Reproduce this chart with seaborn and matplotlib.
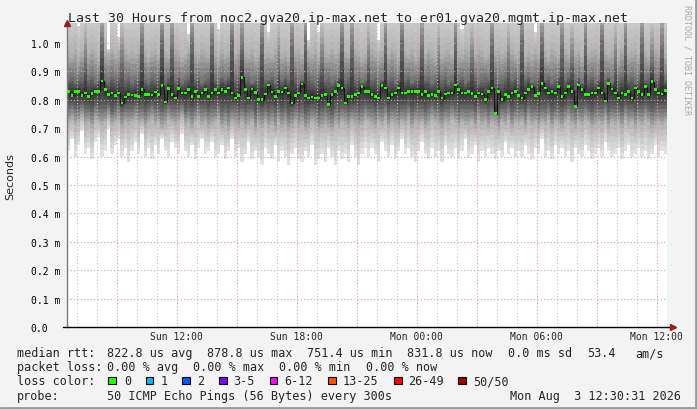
import numpy as np
import pandas as pd
import matplotlib
matplotlib.use('Agg')
import matplotlib.pyplot as plt
import matplotlib.dates as mdates
from matplotlib.ticker import FuncFormatter
from matplotlib.patches import Rectangle
from matplotlib.lines import Line2D
import seaborn as sns

# median rtt per 10 minute slot, in microseconds
median_us = [
    830, 815, 830, 828, 815, 824, 812, 822, 830, 830, 866, 835, 818, 824, 815,
    824, 789, 810, 818, 816, 815, 812, 836, 818, 818, 816, 827, 818, 850, 792,
    840, 818, 806, 840, 824, 824, 835, 812, 828, 812, 824, 836, 812, 824, 836,
    824, 836, 830, 841, 824, 806, 815, 879, 835, 806, 838, 826, 800, 800, 820,
    852, 827, 812, 830, 827, 841, 824, 789, 814, 824, 855, 815, 806, 810, 806,
    806, 815, 818, 783, 818, 830, 850, 841, 789, 812, 812, 818, 824, 846, 830,
    830, 818, 812, 806, 850, 841, 806, 818, 824, 841, 824, 824, 828, 830, 828,
    830, 818, 830, 815, 818, 815, 830, 806, 820, 824, 824, 852, 836, 824, 824,
    830, 822, 812, 824, 820, 800, 830, 841, 751, 830, 800, 818, 812, 824, 830,
    815, 806, 824, 836, 846, 815, 822, 858, 841, 824, 830, 824, 846, 812, 824,
    846, 830, 777, 852, 836, 818, 818, 824, 824, 841, 824, 795, 858, 838, 824,
    806, 824, 818, 830, 806, 841, 830, 818, 846, 818, 864, 836, 824, 820, 832,
]

# smoke: spread of the 50 pings per slot, in units of 0.01 ms
ping_min = [
    62, 66, 60, 64, 69, 61, 63, 59, 65, 67, 60, 62, 70, 61, 64, 66, 60, 63, 58, 62,
    65, 61, 68, 60, 63, 59, 64, 61, 66, 62, 60, 65, 63, 61, 68, 62, 60, 64, 59, 63,
    66, 61, 62, 65, 60, 61, 64, 59, 62, 66, 60, 63, 58, 61, 65, 59, 62, 60, 57, 63,
    61, 59, 64, 58, 62, 60, 57, 61, 63, 59, 58, 62, 60, 64, 57, 59, 61, 58, 63, 60,
    57, 62, 59, 61, 58, 64, 60, 57, 61, 63, 60, 63, 61, 58, 65, 62, 60, 64, 59, 62,
    66, 61, 63, 60, 58, 62, 65, 61, 59, 63, 60, 62, 58, 64, 61, 60, 63, 59, 62, 66,
    60, 61, 64, 58, 62, 60, 63, 61, 59, 62, 60, 65, 61, 63, 60, 62, 60, 64, 61, 59,
    63, 61, 66, 60, 62, 59, 64, 61, 63, 60, 62, 58, 63, 61, 60, 64, 62, 59, 61, 63,
    60, 65, 62, 60, 61, 63, 59, 62, 64, 60, 61, 63, 60, 62, 59, 61, 64, 60, 62, 61,
]
ping_p10 = [
    72, 73, 71, 72, 74, 71, 72, 70, 73, 72, 71, 72, 74, 71, 72, 73, 70, 72, 71, 72,
    73, 71, 72, 70, 72, 73, 71, 72, 70, 71, 73, 72, 71, 72, 74, 71, 72, 70, 72, 73,
    71, 72, 70, 71, 72, 73, 70, 71, 69, 72, 71, 70, 72, 70, 71, 72, 69, 71, 70, 72,
    70, 71, 69, 72, 70, 71, 69, 70, 72, 70, 71, 69, 70, 72, 71, 69, 70, 71, 70, 69,
    71, 70, 72, 71, 70, 72, 71, 70, 71, 73, 72, 71, 70, 72, 71, 73, 70, 72, 71, 70,
    72, 71, 73, 70, 72, 71, 72, 70, 71, 73, 72, 71, 70, 72, 71, 73, 72, 70, 72, 71,
    71, 72, 70, 73, 71, 72, 70, 72, 71, 69, 72, 71, 73, 70, 72, 71, 72, 70, 73, 71,
    72, 70, 72, 71, 73, 70, 72, 71, 70, 72, 73, 71, 70, 72, 71, 73, 72, 70, 71, 72,
    71, 73, 70, 72, 71, 72, 70, 73, 71, 72, 70, 72, 71, 73, 72, 70, 71, 72, 71, 72,
]
ping_p25 = [
    78, 79, 78, 78, 79, 78, 78, 77, 79, 78, 78, 78, 79, 77, 78, 79, 77, 78, 78, 78,
    79, 78, 78, 77, 78, 79, 78, 78, 77, 78, 79, 78, 78, 78, 79, 77, 78, 77, 78, 79,
    78, 78, 77, 78, 78, 79, 77, 78, 77, 78, 78, 77, 78, 77, 78, 78, 76, 78, 77, 78,
    77, 78, 77, 78, 77, 78, 76, 77, 78, 77, 78, 76, 77, 78, 78, 76, 77, 78, 77, 76,
    78, 77, 78, 78, 77, 78, 78, 77, 78, 79, 78, 78, 77, 78, 78, 79, 77, 78, 78, 77,
    78, 78, 79, 77, 78, 78, 78, 77, 78, 79, 78, 78, 77, 78, 78, 79, 78, 77, 78, 78,
    78, 78, 77, 79, 78, 78, 77, 78, 78, 76, 78, 78, 79, 77, 78, 78, 78, 77, 79, 78,
    78, 77, 78, 78, 79, 77, 78, 78, 77, 78, 79, 78, 77, 78, 78, 79, 78, 77, 78, 78,
    78, 79, 77, 78, 78, 78, 77, 79, 78, 78, 77, 78, 78, 79, 78, 77, 78, 78, 78, 78,
]
ping_p75 = [
    87, 88, 86, 87, 88, 93, 87, 88, 86, 87, 100, 87, 86, 88, 87, 88, 93, 87, 88, 86,
    87, 88, 99, 87, 86, 88, 87, 88, 101, 87, 88, 98, 87, 88, 86, 87, 88, 100, 87, 88,
    86, 87, 88, 99, 87, 86, 88, 87, 88, 101, 87, 88, 98, 87, 88, 86, 87, 88, 100, 87,
    87, 88, 86, 92, 87, 88, 87, 99, 88, 86, 87, 101, 88, 87, 86, 88, 93, 87, 88, 86,
    87, 88, 100, 87, 88, 98, 87, 88, 86, 87, 93, 87, 88, 86, 87, 99, 87, 88, 86, 87,
    101, 87, 88, 86, 87, 88, 98, 87, 88, 86, 87, 92, 87, 88, 86, 87, 100, 87, 88, 86,
    87, 93, 88, 86, 87, 88, 87, 99, 88, 86, 87, 88, 92, 87, 88, 86, 101, 87, 88, 86,
    87, 88, 100, 87, 88, 86, 87, 88, 98, 87, 88, 93, 87, 88, 86, 99, 87, 88, 86, 87,
    101, 87, 88, 86, 93, 87, 88, 99, 87, 88, 86, 87, 100, 87, 88, 93, 87, 88, 98, 87,
]
ping_p90 = [
    97, 96, 98, 95, 97, 104, 96, 98, 97, 95, 110, 97, 96, 98, 96, 97, 104, 98, 96, 97,
    96, 98, 110, 97, 95, 97, 98, 96, 110, 97, 96, 110, 98, 97, 95, 96, 98, 110, 97, 96,
    98, 97, 96, 110, 97, 95, 98, 96, 97, 110, 96, 98, 110, 97, 96, 98, 95, 97, 110, 96,
    97, 96, 98, 104, 96, 97, 95, 110, 97, 98, 96, 110, 97, 96, 98, 95, 104, 97, 96, 98,
    96, 98, 110, 97, 96, 110, 98, 97, 95, 96, 104, 98, 97, 96, 97, 110, 96, 98, 97, 95,
    110, 97, 96, 98, 95, 97, 110, 96, 98, 97, 95, 104, 96, 97, 98, 96, 110, 97, 96, 98,
    97, 104, 96, 98, 97, 95, 96, 110, 97, 98, 96, 97, 104, 98, 96, 97, 110, 95, 97, 96,
    98, 96, 110, 97, 95, 98, 97, 96, 110, 98, 96, 104, 97, 98, 95, 110, 96, 97, 98, 96,
    110, 98, 96, 97, 104, 95, 98, 110, 96, 97, 98, 96, 110, 97, 95, 104, 98, 97, 110, 96,
]
ping_max = [
    110, 110, 110, 106, 110, 110, 110, 110, 110, 110, 110, 110, 98, 110, 110, 102, 110, 110, 110, 110,
    110, 110, 110, 110, 110, 110, 110, 110, 110, 110, 110, 110, 110, 110, 110, 110, 103, 110, 110, 110,
    110, 110, 110, 110, 110, 105, 110, 110, 110, 110, 110, 110, 110, 110, 110, 110, 110, 110, 110, 110,
    104, 110, 110, 110, 110, 110, 110, 110, 110, 110, 110, 110, 101, 110, 110, 104, 110, 110, 110, 110,
    110, 110, 110, 110, 110, 110, 110, 110, 110, 110, 110, 110, 110, 101, 110, 110, 110, 110, 110, 110,
    110, 110, 110, 110, 110, 110, 110, 110, 110, 110, 110, 110, 110, 110, 110, 110, 110, 110, 105, 110,
    110, 110, 110, 110, 110, 110, 110, 110, 110, 110, 110, 110, 110, 110, 110, 110, 110, 110, 110, 110,
    104, 110, 110, 110, 110, 110, 110, 110, 110, 110, 110, 110, 110, 110, 110, 110, 110, 110, 110, 110,
    110, 110, 110, 110, 110, 110, 110, 110, 110, 110, 110, 110, 110, 110, 110, 110, 110, 110, 110, 110,
]

y_ticks = [0.0, 0.1, 0.2, 0.3, 0.4, 0.5, 0.6, 0.7, 0.8, 0.9, 1.0]
loss_labels = ['0', '1', '2', '3-5', '6-12', '13-25', '26-49', '50/50']
loss_colors = ['#26ff00', '#00b8ff', '#0059ff', '#7e00ff', '#ff00ff', '#ff5500', '#ff0000', '#a10000']

sns.set_style('white')
plt.rcParams['font.family'] = ['DejaVu Sans Mono']

W, H = 697, 410
fig = plt.figure(figsize=(W / 100, H / 100), dpi=100, facecolor='#f3f3f3')
ax = fig.add_axes([67 / W, 1 - 328 / H, 600 / W, 304 / H])
ax.set_facecolor('white')


def px(x, y):
    return x / W, 1 - y / H


# time slots (left edges) and centres
t_edges = pd.date_range('2026-08-02 06:30:31', periods=len(median_us) + 1, freq='10min')
t_mid = t_edges[:-1] + pd.Timedelta(minutes=5)


def edge(v):
    v = np.asarray(v, dtype=float) / 100.0
    return np.append(v, v[-1])


# smoke: darker towards the median, shaded in thin steps between the quantiles
levels = [ping_min, ping_p10, ping_p25, np.array(median_us) / 10.0, ping_p75, ping_p90, ping_max]
darkness = [0.10, 0.30, 0.64, 0.82, 0.56, 0.30, 0.18]
n_sub = 5

g0 = 1 - darkness[0]
ax.fill_between(t_edges, edge(ping_min), edge(ping_max), step='post', color=(g0, g0, g0), lw=0, zorder=1)
for a, b, da, db in zip(levels[:-1], levels[1:], darkness[:-1], darkness[1:]):
    a = np.asarray(a, dtype=float)
    b = np.asarray(b, dtype=float)
    for k in range(n_sub):
        lo = a + (b - a) * k / n_sub
        hi = a + (b - a) * (k + 1) / n_sub
        g = 1 - (da + (db - da) * (k + 0.5) / n_sub)
        ax.fill_between(t_edges, edge(lo), edge(hi), step='post', color=(g, g, g),
                        lw=0, antialiased=False, zorder=1)

df = pd.DataFrame({'time': t_mid, 'median': np.array(median_us) / 1000.0})
sns.lineplot(data=df, x='time', y='median', ax=ax, color='#151515', lw=0.8,
             drawstyle='steps-mid', zorder=3)
sns.scatterplot(data=df, x='time', y='median', ax=ax, marker='s', s=3.6,
                color=loss_colors[0], edgecolor='none', linewidth=0, zorder=4)

ax.set_xlim(t_edges[0], t_edges[-1])
ax.set_ylim(0, 1.07)
ax.set_xlabel('')
ax.set_ylabel('')

# grid
ax.xaxis.set_major_locator(mdates.HourLocator(byhour=range(0, 24, 3)))
ax.xaxis.set_minor_locator(mdates.HourLocator(byhour=[h for h in range(24) if h % 3]))


def fmt_time(x, pos):
    d = mdates.num2date(x)
    return d.strftime('%a %H:%M') if d.hour % 6 == 0 else ''


ax.xaxis.set_major_formatter(FuncFormatter(fmt_time))
ax.set_yticks(y_ticks)
ax.set_yticklabels(['0.0'] + [f'{v:.1f} m' for v in y_ticks[1:]])
ax.set_axisbelow(False)
ax.grid(True, which='major', axis='both', color='#e49a9a', linestyle=(0, (1, 2)), linewidth=0.8)
ax.grid(True, which='minor', axis='x', color='#c4c4c4', linestyle=(0, (1, 2)), linewidth=0.8)

ax.tick_params(axis='y', length=0, pad=26.1, labelsize=7, labelcolor='black')
for lab in ax.get_yticklabels():
    lab.set_horizontalalignment('left')
ax.tick_params(axis='x', which='major', length=1.6, color='#d07070', pad=1.5, labelsize=7)
ax.tick_params(axis='x', which='minor', length=0)

for s in ['top', 'right', 'bottom']:
    ax.spines[s].set_visible(False)
ax.spines['left'].set_color('#7a7a7a')
ax.spines['left'].set_linewidth(1)

# axis line with arrows
ax.plot([-0.007, 1.008], [0, 0], transform=ax.transAxes, color='black', lw=1, clip_on=False, zorder=5)
ax.plot([1.01], [0], transform=ax.transAxes, marker='>', ms=4, color='#a01818', clip_on=False, zorder=6)
ax.plot([0], [1.0], transform=ax.transAxes, marker='^', ms=4, color='#a01818', clip_on=False, zorder=6)

# titles
fig.text(*px(348.5, 18.5), 'Last 30 Hours from noc2.gva20.ip-max.net to er01.gva20.mgmt.ip-max.net',
         ha='center', va='center', fontsize=9.5)
fig.text(*px(10.5, 176.5), 'Seconds', rotation=90, ha='center', va='center', fontsize=8,
         family=['DejaVu Sans'])
fig.text(*px(687.5, 60), 'RRDTOOL / TOBI OETIKER', rotation=270, ha='center', va='center',
         fontsize=6, color='#a8a8a8')

# legend block
fs = 8.5
rows = [
    (354, [(16.7, 'median rtt:'), (107.3, '822.8 us avg'), (207.3, '878.8 us max'),
           (307.3, '751.4 us min'), (407.3, '831.8 us now'), (507.7, '0.0 ms sd'),
           (586.7, '53.4'), (635, 'am/s')]),
    (368, [(16.7, 'packet loss:'), (107.3, '0.00 % avg'), (193.3, '0.00 % max'),
           (279.3, '0.00 % min'), (365.7, '0.00 % now')]),
    (382, [(16.7, 'loss color:')]),
    (396.3, [(16.7, 'probe:'), (107.3, '50 ICMP Echo Pings (56 Bytes) every 300s')]),
]
for y, items in rows:
    for x, t in items:
        fig.text(*px(x, y), t, ha='left', va='center', fontsize=fs)
fig.text(*px(681, 396.3), 'Mon Aug  3 12:30:31 2026', ha='right', va='center', fontsize=fs)

box_x = [108.3, 145.7, 182.3, 219.3, 270, 328.3, 394.3, 458.3]
lab_x = [124, 160.7, 197.3, 233.3, 284, 342.7, 408.3, 472.7]
for bx, lx, lab, col in zip(box_x, lab_x, loss_labels, loss_colors):
    x0, y0 = px(bx, 385)
    fig.add_artist(Rectangle((x0, y0), 7.3 / W, 7.5 / H, transform=fig.transFigure,
                             facecolor=col, edgecolor='black', lw=0.8))
    fig.text(*px(lx, 382), lab, ha='left', va='center', fontsize=fs)

# frame
fig.add_artist(Line2D([0, 1], [1.2 / H, 1.2 / H], transform=fig.transFigure, color='#9a9a9a', lw=2))
fig.add_artist(Line2D([1 - 1.2 / W, 1 - 1.2 / W], [0, 1], transform=fig.transFigure, color='#9a9a9a', lw=2))

fig.savefig('out.png', dpi=100, facecolor=fig.get_facecolor())
